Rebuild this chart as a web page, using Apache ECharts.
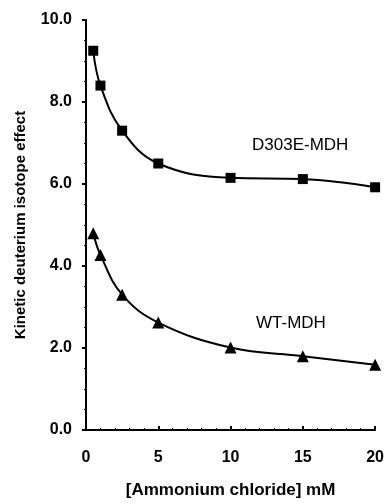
<!DOCTYPE html>
<html>
<head>
<meta charset="utf-8">
<script src="https://cdn.jsdelivr.net/npm/echarts@6/dist/echarts.min.js"></script>
<style>
  html, body { margin: 0; padding: 0; background: #fff; }
  #chart { width: 387px; height: 504px; }
</style>
</head>
<body>
<div id="chart"></div>
<script>
// 氯化铵浓度 (mM)
const conc = [0.5, 1, 2.5, 5, 10, 15, 20];
// D303E-MDH 数据
const d303e = [9.25, 8.4, 7.3, 6.5, 6.15, 6.12, 5.92];
// WT-MDH 数据
const wt = [4.8, 4.27, 3.3, 2.62, 2.01, 1.8, 1.59];

const FONT = '"Liberation Sans", Arial, sans-serif';

const chart = echarts.init(document.getElementById('chart'));

const pairs = (ys) => conc.map((x, i) => [x, ys[i]]);

const option = {
  animation: false,
  grid: { left: 86, right: 11, top: 20, bottom: 67 },
  xAxis: {
    type: 'value',
    min: 0,
    max: 20,
    interval: 5,
    name: '[Ammonium chloride] mM',
    nameLocation: 'middle',
    nameGap: 52,
    nameTextStyle: { fontFamily: FONT, fontWeight: 'bold', fontSize: 17, color: '#000' },
    axisLine: { lineStyle: { color: '#000', width: 2 } },
    axisTick: { inside: true, length: 4, lineStyle: { color: '#000', width: 2 } },
    minorTick: { show: true, splitNumber: 5, length: 2, lineStyle: { color: '#000' } },
    axisLabel: { margin: 20, fontFamily: FONT, fontWeight: 'bold', fontSize: 16, color: '#000' },
    splitLine: { show: false }
  },
  yAxis: {
    type: 'value',
    min: 0,
    max: 10,
    interval: 2,
    name: 'Kinetic deuterium isotope effect',
    nameLocation: 'middle',
    nameGap: 58,
    nameTextStyle: { fontFamily: FONT, fontWeight: 'bold', fontSize: 15, color: '#000' },
    axisLine: { show: true, lineStyle: { color: '#000', width: 2 } },
    axisTick: { show: true, length: 4, lineStyle: { color: '#000', width: 2 } },
    minorTick: { show: true, splitNumber: 4, length: 2, lineStyle: { color: '#000' } },
    axisLabel: {
      margin: 14,
      fontFamily: FONT, fontWeight: 'bold', fontSize: 16, color: '#000',
      formatter: (v) => v.toFixed(1)
    },
    splitLine: { show: false }
  },
  series: [
    {
      name: 'D303E-MDH',
      type: 'line',
      data: pairs(d303e),
      smooth: 0.4,
      symbol: 'rect',
      symbolSize: 10,
      itemStyle: { color: '#000' },
      lineStyle: { color: '#000', width: 2 }
    },
    {
      name: 'WT-MDH',
      type: 'line',
      data: pairs(wt),
      smooth: 0.4,
      symbol: 'triangle',
      symbolSize: 12,
      itemStyle: { color: '#000' },
      lineStyle: { color: '#000', width: 2 }
    }
  ],
  graphic: [
    {
      type: 'text', left: 252, top: 137,
      style: { text: 'D303E-MDH', font: '17px ' + FONT, fill: '#000' }
    },
    {
      type: 'text', left: 256, top: 315,
      style: { text: 'WT-MDH', font: '17px ' + FONT, fill: '#000' }
    }
  ]
};

chart.setOption(option);
</script>
</body>
</html>
